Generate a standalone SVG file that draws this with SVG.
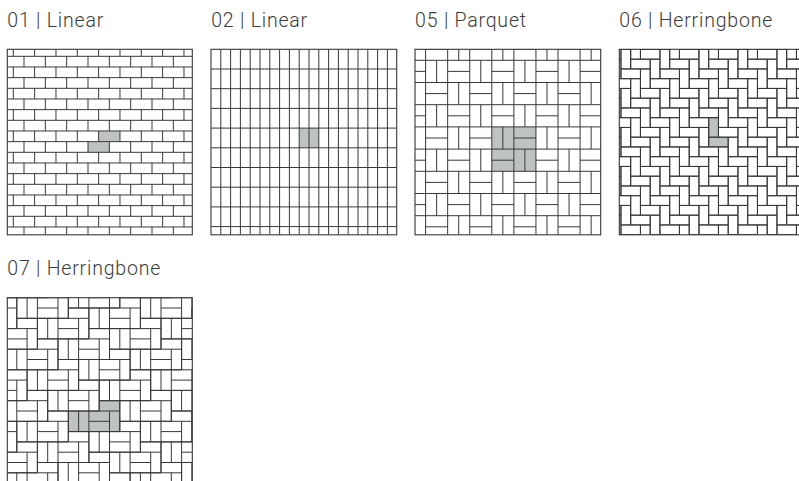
<svg xmlns="http://www.w3.org/2000/svg" width="799" height="481" viewBox="0 0 799 481">
<style>
.ln{fill:none;stroke:#383838;stroke-width:1}
.bx{fill:none;stroke:#383838;stroke-width:1.1}
.gy{fill:#bfc2c2}
.lb{font-family:Roboto,"Liberation Sans",sans-serif;font-weight:300;font-size:19.5px;fill:#3c3c3c;letter-spacing:0.8px}
</style>
<defs>
<clipPath id="c1"><rect x="7.3" y="49.3" width="185" height="185.5"/></clipPath>
<clipPath id="c2"><rect x="211" y="49.3" width="185.7" height="185.5"/></clipPath>
<clipPath id="c3"><rect x="415" y="49.3" width="185.7" height="185.5"/></clipPath>
<clipPath id="c4"><rect x="619.3" y="49.3" width="185.5" height="185.5"/></clipPath>
<clipPath id="c5"><rect x="7.3" y="297.7" width="185" height="185.5"/></clipPath>
<path id="r1" class="ln" d="M13.3 0v10.67M34.63 0v10.67M55.97 0v10.67M77.3 0v10.67M98.63 0v10.67M119.97 0v10.67M141.3 0v10.67M162.63 0v10.67M183.97 0v10.67"/>
<path id="r2" class="ln" d="M24 0v10.67M45.33 0v10.67M66.67 0v10.67M88 0v10.67M109.33 0v10.67M130.67 0v10.67M152 0v10.67M173.33 0v10.67"/>
<path id="pb" class="ln" d="M11.035 0v22.2M22.07 11.1h22.07M0 33.3h22.07M33.105 22.2v22.2"/>
<g id="ps"><use href="#pb" x="381.46"/><use href="#pb" x="425.6"/><use href="#pb" x="469.74"/><use href="#pb" x="513.88"/><use href="#pb" x="558.02"/></g>
<path id="hs" class="ln" d="M0 0h9.75v19.5h-9.75zm0 19.5h19.5v9.75h-19.5zm9.75-29.25h9.75v19.5h-9.75zm0 19.5h19.5v9.75h-19.5zm9.75-29.25h9.75v19.5h-9.75zm0 19.5h19.5v9.75h-19.5zm9.75-29.25h9.75v19.5h-9.75zm0 19.5h19.5v9.75h-19.5zm9.75-29.25h9.75v19.5h-9.75zm0 19.5h19.5v9.75h-19.5zm9.75-29.25h9.75v19.5h-9.75zm0 19.5h19.5v9.75h-19.5zm9.75-29.25h9.75v19.5h-9.75zm0 19.5h19.5v9.75h-19.5zm9.75-29.25h9.75v19.5h-9.75zm0 19.5h19.5v9.75h-19.5zm9.75-29.25h9.75v19.5h-9.75zm0 19.5h19.5v9.75h-19.5zm9.75-29.25h9.75v19.5h-9.75zm0 19.5h19.5v9.75h-19.5zm9.75-29.25h9.75v19.5h-9.75zm0 19.5h19.5v9.75h-19.5zm9.75-29.25h9.75v19.5h-9.75zm0 19.5h19.5v9.75h-19.5zm9.75-29.25h9.75v19.5h-9.75zm0 19.5h19.5v9.75h-19.5zm9.75-29.25h9.75v19.5h-9.75zm0 19.5h19.5v9.75h-19.5zm9.75-29.25h9.75v19.5h-9.75zm0 19.5h19.5v9.75h-19.5zm9.75-29.25h9.75v19.5h-9.75zm0 19.5h19.5v9.75h-19.5zm9.75-29.25h9.75v19.5h-9.75zm0 19.5h19.5v9.75h-19.5zm9.75-29.25h9.75v19.5h-9.75zm0 19.5h19.5v9.75h-19.5zm9.75-29.25h9.75v19.5h-9.75zm0 19.5h19.5v9.75h-19.5zm9.75-29.25h9.75v19.5h-9.75zm0 19.5h19.5v9.75h-19.5zm9.75-29.25h9.75v19.5h-9.75zm0 19.5h19.5v9.75h-19.5zm9.75-29.25h9.75v19.5h-9.75zm0 19.5h19.5v9.75h-19.5z"/>
<path id="c7" class="ln" d="M0 10.3h51.5v20.6h-51.5zM10.3 10.3v20.6M20.6 10.3v20.6M20.6 20.6h20.6M41.2 10.3v20.6M30.9 10.3v-10.3h20.6v10.3"/>
<g id="s7"><use href="#c7"/><use href="#c7" x="20.6" y="20.6"/><use href="#c7" x="41.2" y="41.2"/><use href="#c7" x="61.8" y="61.8"/><use href="#c7" x="82.4" y="82.4"/><use href="#c7" x="103" y="103"/><use href="#c7" x="123.6" y="123.6"/><use href="#c7" x="144.2" y="144.2"/><use href="#c7" x="164.8" y="164.8"/><use href="#c7" x="185.4" y="185.4"/></g>
</defs>
<rect width="799" height="481" fill="#fff"/>

<g id="p01">
<text class="lb" x="7.3" y="26.7">01 | Linear</text>
<g clip-path="url(#c1)">
<rect class="gy" x="98.63" y="130.97" width="21.33" height="10.67"/>
<rect class="gy" x="88" y="141.63" width="21.33" height="10.67"/>
<path class="ln" d="M7.3 56.3H192.3M7.3 66.97H192.3M7.3 77.63H192.3M7.3 88.3H192.3M7.3 98.97H192.3M7.3 109.63H192.3M7.3 120.3H192.3M7.3 130.97H192.3M7.3 141.63H192.3M7.3 152.3H192.3M7.3 162.97H192.3M7.3 173.63H192.3M7.3 184.3H192.3M7.3 194.97H192.3M7.3 205.63H192.3M7.3 216.3H192.3M7.3 226.97H192.3"/>
<use href="#r1" y="45.63"/><use href="#r2" y="56.3"/><use href="#r1" y="66.97"/><use href="#r2" y="77.63"/><use href="#r1" y="88.3"/><use href="#r2" y="98.97"/><use href="#r1" y="109.63"/><use href="#r2" y="120.3"/><use href="#r1" y="130.97"/><use href="#r2" y="141.63"/><use href="#r1" y="152.3"/><use href="#r2" y="162.97"/><use href="#r1" y="173.63"/><use href="#r2" y="184.3"/><use href="#r1" y="194.97"/><use href="#r2" y="205.63"/><use href="#r1" y="216.3"/><use href="#r2" y="226.97"/>
</g>
<rect class="bx" x="7.3" y="49.3" width="185" height="185.5"/>
</g>

<g id="p02">
<text class="lb" x="211.2" y="26.7">02 | Linear</text>
<g clip-path="url(#c2)">
<rect class="gy" x="299.2" y="128.1" width="19.6" height="19.7"/>
<path class="ln" d="M220.8 49.3V234.8M230.6 49.3V234.8M240.4 49.3V234.8M250.2 49.3V234.8M260 49.3V234.8M269.8 49.3V234.8M279.6 49.3V234.8M289.4 49.3V234.8M299.2 49.3V234.8M309 49.3V234.8M318.8 49.3V234.8M328.6 49.3V234.8M338.4 49.3V234.8M348.2 49.3V234.8M358 49.3V234.8M367.8 49.3V234.8M377.6 49.3V234.8M387.4 49.3V234.8M211 69H396.7M211 88.7H396.7M211 108.4H396.7M211 128.1H396.7M211 147.8H396.7M211 167.5H396.7M211 187.2H396.7M211 206.9H396.7M211 226.6H396.7"/>
</g>
<rect class="bx" x="211" y="49.3" width="185.7" height="185.5"/>
</g>

<g id="p05">
<text class="lb" x="415.1" y="26.7">05 | Parquet</text>
<g clip-path="url(#c3)">
<rect class="gy" x="491.81" y="126.9" width="44.14" height="44.4"/>
<path class="ln" d="M425.6 49.3V234.8M447.67 49.3V234.8M469.74 49.3V234.8M491.81 49.3V234.8M513.88 49.3V234.8M535.95 49.3V234.8M558.02 49.3V234.8M580.09 49.3V234.8M415 60.3H600.7M415 82.5H600.7M415 104.7H600.7M415 126.9H600.7M415 149.1H600.7M415 171.3H600.7M415 193.5H600.7M415 215.7H600.7"/>
<use href="#ps" y="15.9"/><use href="#ps" y="60.3"/><use href="#ps" y="104.7"/><use href="#ps" y="149.1"/><use href="#ps" y="193.5"/>
</g>
<rect class="bx" x="415" y="49.3" width="185.7" height="185.5"/>
</g>

<g id="p06">
<text class="lb" x="619.3" y="26.7">06 | Herringbone</text>
<g clip-path="url(#c4)">
<rect class="gy" x="708.7" y="117.7" width="9.75" height="19.5"/>
<rect class="gy" x="708.7" y="137.2" width="19.5" height="9.75"/>
<use href="#hs" x="503.95" y="127.45"/><use href="#hs" x="523.45" y="146.95"/><use href="#hs" x="542.95" y="166.45"/><use href="#hs" x="562.45" y="185.95"/><use href="#hs" x="581.95" y="205.45"/><use href="#hs" x="601.45" y="224.95"/><use href="#hs" x="620.95" y="244.45"/><use href="#hs" x="640.45" y="263.95"/><use href="#hs" x="659.95" y="283.45"/><use href="#hs" x="679.45" y="302.95"/><use href="#hs" x="698.95" y="322.45"/>
</g>
<rect class="bx" x="619.3" y="49.3" width="185.5" height="185.5"/>
</g>

<g id="p07">
<text class="lb" x="7.3" y="275.2">07 | Herringbone</text>
<g clip-path="url(#c5)">
<rect class="gy" x="68.3" y="411" width="51.5" height="20.6"/>
<rect class="gy" x="99.2" y="400.7" width="20.6" height="10.3"/>
<use href="#s7" x="-96.5" y="359.5"/><use href="#s7" x="-65.6" y="328.6"/><use href="#s7" x="-34.7" y="297.7"/><use href="#s7" x="-3.8" y="266.8"/><use href="#s7" x="27.1" y="235.9"/><use href="#s7" x="58" y="205"/>
</g>
<rect class="bx" x="7.3" y="297.7" width="185" height="185.5"/>
</g>
</svg>
